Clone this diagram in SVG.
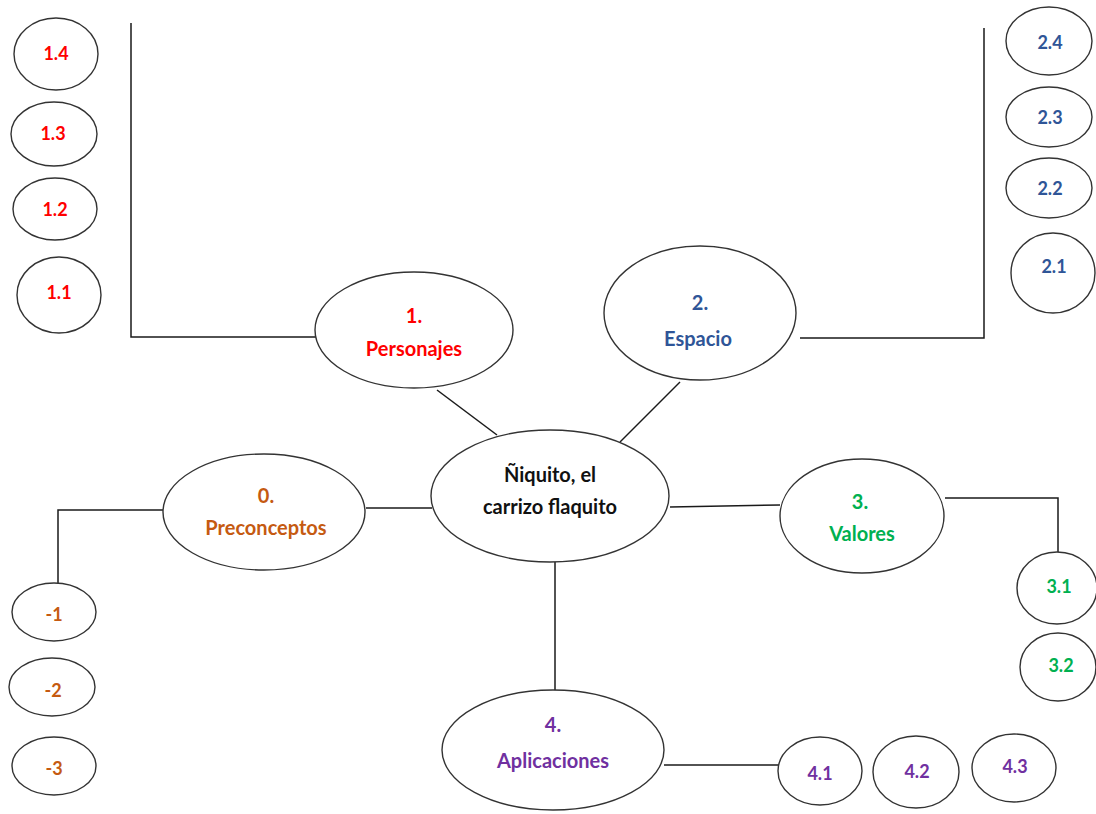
<svg xmlns="http://www.w3.org/2000/svg" width="1096" height="814" viewBox="0 0 1096 814">
<style>
  .n { fill: #fff; stroke: #333; stroke-width: 1.4; }
  .c { stroke: #1a1a1a; stroke-width: 1.5; fill: none; }
  text { font-family: Lato, "Open Sans", "Liberation Sans", sans-serif; font-weight: bold; text-anchor: middle; }
  .big { font-size: 20px; }
  .sm { font-size: 18px; }
  .red { fill: #ff0000; }
  .blue { fill: #2f5597; }
  .org { fill: #c55a11; }
  .grn { fill: #00b050; }
  .pur { fill: #7030a0; }
  .blk { fill: #111; }
</style>
<rect width="1096" height="814" fill="#fff"/>
<g id="connectors">
  <polyline class="c" points="131,23 131,337 316,337"/>
  <polyline class="c" points="984,28 984,338 800,338"/>
  <line class="c" x1="437" y1="390" x2="497" y2="435"/>
  <line class="c" x1="680" y1="382" x2="620" y2="442"/>
  <line class="c" x1="366" y1="508" x2="432" y2="508"/>
  <polyline class="c" points="163,510 58,510 58,583"/>
  <line class="c" x1="670" y1="507" x2="780" y2="505"/>
  <polyline class="c" points="945,498 1058,498 1058,552"/>
  <line class="c" x1="555" y1="562" x2="555" y2="690"/>
  <line class="c" x1="664" y1="765" x2="779" y2="765"/>
</g>
<g id="center">
  <ellipse class="n" cx="550" cy="496" rx="119" ry="66"/>
  <text class="big blk" x="550" y="482">Ñiquito, el</text>
  <text class="big blk" x="550" y="514">carrizo flaquito</text>
</g>
<g id="n1">
  <ellipse class="n" cx="414" cy="330" rx="99" ry="58"/>
  <text class="big red" x="414" y="323">1.</text>
  <text class="big red" x="414" y="356">Personajes</text>
</g>
<g id="n2">
  <ellipse class="n" cx="700" cy="313" rx="96" ry="67"/>
  <text class="big blue" x="700" y="310">2.</text>
  <text class="big blue" x="698" y="346">Espacio</text>
</g>
<g id="n0">
  <ellipse class="n" cx="264" cy="512" rx="101" ry="58"/>
  <text class="big org" x="266" y="503">0.</text>
  <text class="big org" x="266" y="535">Preconceptos</text>
</g>
<g id="n3">
  <ellipse class="n" cx="862" cy="516" rx="82" ry="57"/>
  <text class="big grn" x="860" y="509">3.</text>
  <text class="big grn" x="862" y="541">Valores</text>
</g>
<g id="n4">
  <ellipse class="n" cx="553" cy="750" rx="111" ry="60"/>
  <text class="big pur" x="553" y="732">4.</text>
  <text class="big pur" x="553" y="768">Aplicaciones</text>
</g>
<g id="n1_4"><ellipse class="n" cx="56" cy="54" rx="42" ry="36"/><text class="sm red" x="56" y="60">1.4</text></g>
<g id="n1_3"><ellipse class="n" cx="54" cy="134" rx="43" ry="32"/><text class="sm red" x="53" y="140">1.3</text></g>
<g id="n1_2"><ellipse class="n" cx="55" cy="209" rx="42" ry="31"/><text class="sm red" x="55" y="216">1.2</text></g>
<g id="n1_1"><ellipse class="n" cx="59" cy="295" rx="42" ry="38"/><text class="sm red" x="59" y="299">1.1</text></g>
<g id="n2_4"><ellipse class="n" cx="1049" cy="41" rx="43" ry="34"/><text class="sm blue" x="1050" y="49">2.4</text></g>
<g id="n2_3"><ellipse class="n" cx="1049" cy="117" rx="43" ry="30"/><text class="sm blue" x="1050" y="124">2.3</text></g>
<g id="n2_2"><ellipse class="n" cx="1049" cy="188" rx="43" ry="30"/><text class="sm blue" x="1050" y="195">2.2</text></g>
<g id="n2_1"><ellipse class="n" cx="1053" cy="273" rx="42" ry="40"/><text class="sm blue" x="1054" y="273">2.1</text></g>
<g id="n0_1"><ellipse class="n" cx="54" cy="612" rx="42" ry="29"/><text class="sm org" x="54" y="621">-1</text></g>
<g id="n0_2"><ellipse class="n" cx="52" cy="687" rx="43" ry="29"/><text class="sm org" x="53" y="697">-2</text></g>
<g id="n0_3"><ellipse class="n" cx="54" cy="766" rx="42" ry="29"/><text class="sm org" x="54" y="775">-3</text></g>
<g id="n3_1"><ellipse class="n" cx="1057" cy="588" rx="40" ry="36"/><text class="sm grn" x="1059" y="593">3.1</text></g>
<g id="n3_2"><ellipse class="n" cx="1058" cy="667" rx="38" ry="34"/><text class="sm grn" x="1061" y="672">3.2</text></g>
<g id="n4_1"><ellipse class="n" cx="820" cy="771" rx="42" ry="34"/><text class="sm pur" x="820" y="780">4.1</text></g>
<g id="n4_2"><ellipse class="n" cx="916" cy="772" rx="43" ry="36"/><text class="sm pur" x="917" y="778">4.2</text></g>
<g id="n4_3"><ellipse class="n" cx="1014" cy="768" rx="42" ry="34"/><text class="sm pur" x="1015" y="773">4.3</text></g>
</svg>
